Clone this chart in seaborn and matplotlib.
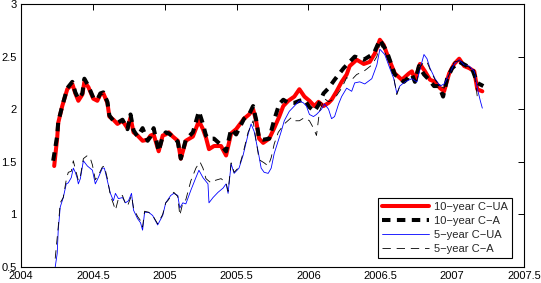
import matplotlib
matplotlib.use("Agg")
import matplotlib.pyplot as plt
import seaborn as sns
import pandas as pd
from matplotlib.ticker import FormatStrFormatter

# ---------------- data (decimal year, value) ----------------
t_10ua = [2004.231, 2004.252, 2004.259, 2004.287, 2004.322, 2004.357, 2004.378, 2004.399, 2004.427, 2004.441,
          2004.469, 2004.503, 2004.531, 2004.552, 2004.573, 2004.601, 2004.615, 2004.643, 2004.671, 2004.706,
          2004.741, 2004.762, 2004.783, 2004.811, 2004.846, 2004.881, 2004.902, 2004.923, 2004.958, 2004.986,
          2005.007, 2005.028, 2005.056, 2005.091, 2005.112, 2005.147, 2005.196, 2005.238, 2005.266, 2005.287,
          2005.308, 2005.343, 2005.392, 2005.427, 2005.462, 2005.497, 2005.552, 2005.587, 2005.615, 2005.636,
          2005.657, 2005.685, 2005.727, 2005.762, 2005.797, 2005.825, 2005.860, 2005.902, 2005.937, 2005.972,
          2006.007, 2006.042, 2006.070, 2006.105, 2006.140, 2006.161, 2006.196, 2006.231, 2006.266, 2006.287,
          2006.336, 2006.385, 2006.427, 2006.462, 2006.497, 2006.524, 2006.559, 2006.601, 2006.650, 2006.699,
          2006.720, 2006.741, 2006.776, 2006.811, 2006.846, 2006.881, 2006.916, 2006.944, 2006.979, 2007.014,
          2007.049, 2007.084, 2007.119, 2007.154, 2007.175, 2007.210]
v_10ua = [1.46, 1.73, 1.87, 2.03, 2.19, 2.24, 2.15, 2.08, 2.14, 2.26,
          2.21, 2.10, 2.08, 2.14, 2.15, 2.06, 1.93, 1.90, 1.86, 1.89,
          1.82, 1.92, 1.78, 1.75, 1.70, 1.71, 1.75, 1.76, 1.60, 1.75,
          1.76, 1.78, 1.74, 1.70, 1.53, 1.70, 1.74, 1.89, 1.81, 1.73,
          1.62, 1.65, 1.65, 1.56, 1.77, 1.81, 1.91, 1.95, 2.00, 1.89,
          1.72, 1.68, 1.72, 1.82, 1.93, 2.03, 2.08, 2.12, 2.19, 2.12,
          2.08, 2.03, 2.07, 2.03, 2.06, 2.09, 2.17, 2.26, 2.33, 2.41,
          2.47, 2.43, 2.45, 2.53, 2.66, 2.61, 2.48, 2.34, 2.28, 2.34,
          2.36, 2.28, 2.43, 2.36, 2.28, 2.26, 2.20, 2.17, 2.34, 2.43,
          2.48, 2.41, 2.39, 2.36, 2.19, 2.17]

t_10a = [2004.224, 2004.252, 2004.259, 2004.287, 2004.322, 2004.357, 2004.378, 2004.399, 2004.427, 2004.441,
         2004.469, 2004.503, 2004.531, 2004.552, 2004.573, 2004.601, 2004.615, 2004.643, 2004.671, 2004.706,
         2004.741, 2004.762, 2004.783, 2004.811, 2004.846, 2004.881, 2004.902, 2004.923, 2004.958, 2004.986,
         2005.007, 2005.028, 2005.056, 2005.091, 2005.112, 2005.147, 2005.196, 2005.238, 2005.266, 2005.287,
         2005.308, 2005.343, 2005.392, 2005.427, 2005.462, 2005.497, 2005.552, 2005.587, 2005.615, 2005.636,
         2005.657, 2005.685, 2005.727, 2005.762, 2005.797, 2005.825, 2005.860, 2005.902, 2005.937, 2005.972,
         2006.007, 2006.042, 2006.070, 2006.105, 2006.140, 2006.182, 2006.245, 2006.322, 2006.385, 2006.455,
         2006.497, 2006.545, 2006.601, 2006.664, 2006.720, 2006.741, 2006.769, 2006.804, 2006.839, 2006.874,
         2006.909, 2006.937, 2006.965, 2007.000, 2007.049, 2007.091, 2007.140, 2007.175, 2007.217]
v_10a = [1.51, 1.75, 1.88, 2.03, 2.20, 2.26, 2.16, 2.10, 2.15, 2.29,
         2.22, 2.11, 2.09, 2.15, 2.16, 2.07, 1.94, 1.89, 1.87, 1.90,
         1.81, 1.95, 1.80, 1.74, 1.82, 1.70, 1.74, 1.82, 1.60, 1.74,
         1.78, 1.77, 1.74, 1.69, 1.53, 1.71, 1.78, 1.98, 1.86, 1.75,
         1.72, 1.72, 1.66, 1.60, 1.81, 1.76, 1.91, 1.95, 2.03, 1.90,
         1.72, 1.71, 1.72, 1.90, 2.05, 2.09, 2.06, 2.06, 2.08, 2.09,
         2.02, 1.98, 2.04, 2.15, 2.20, 2.28, 2.39, 2.50, 2.47, 2.53,
         2.66, 2.55, 2.33, 2.26, 2.33, 2.26, 2.41, 2.33, 2.28, 2.22,
         2.22, 2.12, 2.29, 2.39, 2.45, 2.42, 2.38, 2.25, 2.22]

t_5ua = [2004.238, 2004.252, 2004.259, 2004.273, 2004.294, 2004.315, 2004.329, 2004.350, 2004.364, 2004.378,
         2004.392, 2004.399, 2004.413, 2004.434, 2004.462, 2004.497, 2004.517, 2004.538, 2004.566, 2004.580,
         2004.601, 2004.622, 2004.643, 2004.657, 2004.678, 2004.706, 2004.727, 2004.748, 2004.769, 2004.783,
         2004.811, 2004.832, 2004.846, 2004.860, 2004.888, 2004.916, 2004.951, 2004.986, 2005.007, 2005.042,
         2005.063, 2005.091, 2005.105, 2005.126, 2005.147, 2005.182, 2005.217, 2005.238, 2005.266, 2005.301,
         2005.308, 2005.336, 2005.371, 2005.406, 2005.427, 2005.441, 2005.462, 2005.483, 2005.517, 2005.545,
         2005.580, 2005.601, 2005.622, 2005.650, 2005.671, 2005.692, 2005.720, 2005.741, 2005.762, 2005.790,
         2005.811, 2005.832, 2005.867, 2005.902, 2005.937, 2005.965, 2005.986, 2006.007, 2006.035, 2006.056,
         2006.091, 2006.112, 2006.140, 2006.161, 2006.182, 2006.210, 2006.231, 2006.266, 2006.301, 2006.322,
         2006.357, 2006.392, 2006.441, 2006.476, 2006.497, 2006.531, 2006.566, 2006.594, 2006.615, 2006.636,
         2006.671, 2006.720, 2006.755, 2006.776, 2006.804, 2006.825, 2006.846, 2006.881, 2006.916, 2006.944,
         2006.979, 2007.014, 2007.049, 2007.084, 2007.119, 2007.154, 2007.175, 2007.196, 2007.210]
v_5ua = [0.50, 0.63, 0.85, 1.07, 1.16, 1.29, 1.30, 1.35, 1.44, 1.40,
         1.34, 1.29, 1.34, 1.51, 1.46, 1.42, 1.29, 1.35, 1.44, 1.44,
         1.32, 1.20, 1.13, 1.20, 1.15, 1.16, 1.11, 1.13, 1.20, 1.04,
         0.96, 0.92, 0.85, 1.02, 1.02, 0.99, 0.90, 0.99, 1.11, 1.18,
         1.20, 1.18, 1.06, 1.11, 1.10, 1.23, 1.35, 1.42, 1.35, 1.29,
         1.11, 1.16, 1.21, 1.25, 1.29, 1.20, 1.48, 1.39, 1.44, 1.56,
         1.76, 1.86, 1.79, 1.60, 1.44, 1.40, 1.39, 1.44, 1.58, 1.70,
         1.79, 1.89, 1.98, 2.03, 2.08, 2.06, 2.03, 1.95, 1.93, 1.95,
         2.00, 2.05, 2.00, 1.91, 1.93, 2.05, 2.12, 2.20, 2.17, 2.25,
         2.26, 2.24, 2.29, 2.42, 2.57, 2.52, 2.39, 2.29, 2.15, 2.22,
         2.26, 2.29, 2.26, 2.38, 2.52, 2.48, 2.39, 2.29, 2.22, 2.24,
         2.33, 2.43, 2.47, 2.42, 2.41, 2.36, 2.20, 2.08, 2.01]

t_5a = [2004.238, 2004.259, 2004.273, 2004.294, 2004.315, 2004.329, 2004.350, 2004.364, 2004.378, 2004.392,
        2004.399, 2004.413, 2004.434, 2004.462, 2004.483, 2004.497, 2004.517, 2004.538, 2004.566, 2004.580,
        2004.601, 2004.622, 2004.643, 2004.657, 2004.678, 2004.706, 2004.727, 2004.741, 2004.769, 2004.783,
        2004.811, 2004.832, 2004.846, 2004.860, 2004.888, 2004.916, 2004.951, 2004.986, 2005.007, 2005.021,
        2005.042, 2005.063, 2005.091, 2005.105, 2005.126, 2005.147, 2005.182, 2005.217, 2005.245, 2005.266,
        2005.287, 2005.322, 2005.343, 2005.392, 2005.427, 2005.441, 2005.462, 2005.483, 2005.517, 2005.545,
        2005.580, 2005.615, 2005.636, 2005.657, 2005.692, 2005.720, 2005.741, 2005.762, 2005.790, 2005.832,
        2005.881, 2005.902, 2005.937, 2005.972, 2006.007, 2006.035, 2006.056, 2006.077, 2006.112, 2006.140,
        2006.182, 2006.231, 2006.266, 2006.301, 2006.336, 2006.385, 2006.441, 2006.476, 2006.497, 2006.531,
        2006.566, 2006.594, 2006.615, 2006.636, 2006.671, 2006.720, 2006.755, 2006.776, 2006.804, 2006.825,
        2006.846, 2006.881, 2006.916, 2006.944, 2006.979, 2007.014, 2007.049, 2007.084, 2007.119, 2007.154,
        2007.175, 2007.210]
v_5a = [0.58, 0.88, 1.11, 1.16, 1.33, 1.40, 1.41, 1.51, 1.43, 1.36,
        1.32, 1.36, 1.53, 1.56, 1.53, 1.47, 1.33, 1.37, 1.45, 1.46,
        1.34, 1.18, 1.10, 1.04, 1.15, 1.18, 1.10, 1.08, 1.18, 1.06,
        0.98, 0.94, 0.88, 1.03, 1.02, 0.99, 0.91, 1.00, 1.11, 1.13,
        1.17, 1.21, 1.17, 0.99, 1.11, 1.14, 1.32, 1.44, 1.50, 1.44,
        1.34, 1.30, 1.32, 1.34, 1.30, 1.22, 1.49, 1.40, 1.45, 1.58,
        1.78, 1.89, 1.70, 1.52, 1.49, 1.46, 1.54, 1.67, 1.78, 1.86,
        1.92, 1.89, 1.89, 1.92, 1.89, 1.82, 1.75, 1.98, 2.10, 2.07,
        2.10, 2.20, 2.30, 2.28, 2.33, 2.36, 2.42, 2.50, 2.62, 2.55,
        2.42, 2.30, 2.14, 2.22, 2.27, 2.31, 2.27, 2.40, 2.45, 2.45,
        2.38, 2.28, 2.22, 2.20, 2.33, 2.45, 2.46, 2.42, 2.40, 2.34,
        2.12, 2.10]

labels = ["10\u2212year C\u2212UA", "10\u2212year C\u2212A", "5\u2212year C\u2212UA", "5\u2212year C\u2212A"]
x_ticks = [2004, 2004.5, 2005, 2005.5, 2006, 2006.5, 2007, 2007.5]
y_ticks = [0.5, 1, 1.5, 2, 2.5, 3]

# ---------------- plot ----------------
sns.set_theme(style="white")
plt.rcParams['font.family'] = ['Liberation Sans', 'DejaVu Sans']
plt.rcParams['xtick.direction'] = 'in'
plt.rcParams['ytick.direction'] = 'in'

fig = plt.figure(figsize=(5.41, 2.83), dpi=100)
ax = fig.add_axes([21 / 541, 1 - 267 / 283, 503 / 541, 263 / 283])

sns.lineplot(x=t_10ua, y=v_10ua, ax=ax, color='#ff0000', linewidth=2.9, sort=False,
             estimator=None, label=labels[0])
sns.lineplot(x=t_10a, y=v_10a, ax=ax, color='black', linewidth=2.9, sort=False,
             estimator=None, label=labels[1])
ax.lines[-1].set_dashes((2.1, 1.6))
sns.lineplot(x=t_5ua, y=v_5ua, ax=ax, color='#0000ff', linewidth=0.6, sort=False,
             estimator=None, label=labels[2])
sns.lineplot(x=t_5a, y=v_5a, ax=ax, color='black', linewidth=0.6, sort=False,
             estimator=None, label=labels[3])
ax.lines[-1].set_dashes((10, 7))

ax.set_xlim(2004, 2007.5)
ax.set_ylim(0.5, 3)
ax.set_xticks(x_ticks)
ax.set_yticks(y_ticks)
ax.xaxis.set_major_formatter(FormatStrFormatter('%g'))
ax.yaxis.set_major_formatter(FormatStrFormatter('%g'))
ax.tick_params(axis='both', which='both', direction='in', length=4, width=0.7,
               top=True, right=True, labelsize=8, pad=3, colors='black')
for s in ax.spines.values():
    s.set_visible(True)
    s.set_color('black')
    s.set_linewidth(0.8)
ax.set_xlabel('')
ax.set_ylabel('')

leg = ax.legend(loc='lower right', bbox_to_anchor=(0.976, 0.034), fontsize=8, frameon=True,
                fancybox=False, edgecolor='black', handlelength=4.2, borderpad=0.4,
                labelspacing=0.35, handletextpad=0.4, borderaxespad=0)
leg.get_frame().set_linewidth(0.8)
leg.get_frame().set_alpha(1)

fig.savefig('out.png', dpi=100)
